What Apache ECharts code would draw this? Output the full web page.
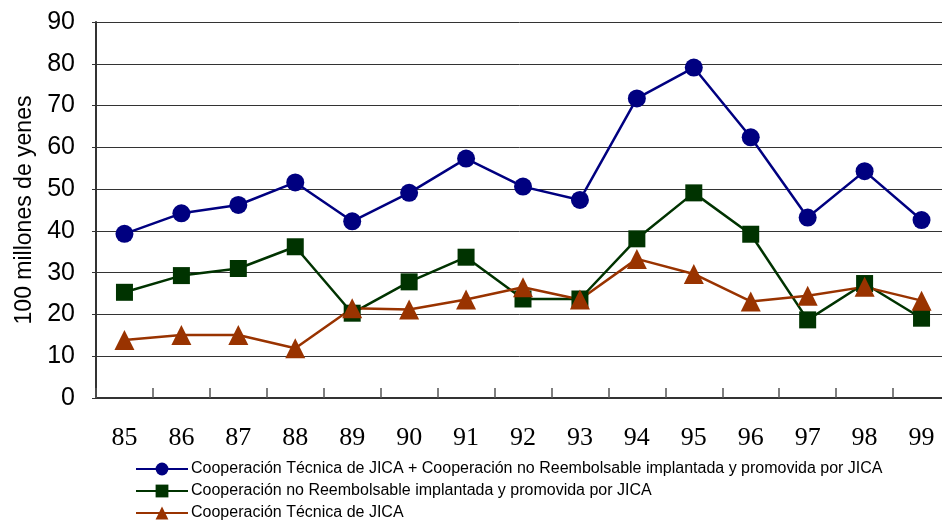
<!DOCTYPE html>
<html><head><meta charset="utf-8">
<script src="https://cdn.jsdelivr.net/npm/echarts@6/dist/echarts.min.js"></script>
<style>html,body{margin:0;padding:0;background:#fff}#c{width:942px;height:523px}</style>
</head><body><div id="c"></div>
<script>
var years = ['85','86','87','88','89','90','91','92','93','94','95','96','97','98','99'];
var totalValues = [39.3,44.2,46.2,51.6,42.3,49.1,57.3,50.6,47.4,71.7,79.1,62.4,43.2,54.3,42.6];
var grantValues = [25.3,29.3,31.0,36.2,20.3,27.8,33.7,23.7,23.7,38.1,49.1,39.2,18.7,27.4,19.1];
var techValues = [13.9,15.1,15.1,11.9,21.5,21.2,23.6,26.5,23.6,33.3,29.7,23.1,24.5,26.6,23.3];
var seriesNames = [
  'Cooperación Técnica de JICA + Cooperación no Reembolsable implantada y promovida por JICA',
  'Cooperación no Reembolsable implantada y promovida por JICA',
  'Cooperación Técnica de JICA'
];
var yTicks = [0,10,20,30,40,50,60,70,80,90];

var chart = echarts.init(document.getElementById('c'), null, {renderer:'canvas'});
chart.setOption({
  animation:false,
  backgroundColor:'#fff',
  grid:{left:96, top:22, width:854, bottom:125, containLabel:false, outerBoundsMode:'none'},
  xAxis:{
    type:'category', data:years, boundaryGap:true,
    axisLine:{lineStyle:{color:'#333', width:2}},
    axisTick:{show:true, inside:true, length:10, lineStyle:{color:'#555', width:1.5}},
    axisLabel:{color:'#000', fontFamily:'Liberation Serif, Times New Roman, serif', fontSize:26, margin:27}
  },
  yAxis:{
    type:'value', min:yTicks[0], max:yTicks[yTicks.length-1], interval:10,
    name:'100 millones de yenes', nameLocation:'middle', nameGap:60, nameRotate:90,
    nameTextStyle:{color:'#000', fontFamily:'Liberation Sans, Arial, sans-serif', fontSize:23},
    axisLine:{show:true, lineStyle:{color:'#333', width:2}},
    axisTick:{show:true, length:4, lineStyle:{color:'#333'}},
    axisLabel:{color:'#000', fontFamily:'Liberation Sans, Arial, sans-serif', fontSize:25, margin:21},
    splitLine:{show:true, lineStyle:{color:'#333', width:1}}
  },
  legend:{
    orient:'vertical', left:135, top:461, padding:0, height:66, itemGap:6, itemWidth:52, itemHeight:16,
    textStyle:{color:'#000', fontFamily:'Liberation Sans, Arial, sans-serif', fontSize:16, padding:[0,0,0,-2]},
    data:seriesNames
  },
  series:[
    {name:seriesNames[0], type:'line', data:totalValues, symbol:'circle', symbolSize:18,
     lineStyle:{color:'#000080', width:2.5}, itemStyle:{color:'#000080'}},
    {name:seriesNames[1], type:'line', data:grantValues, symbol:'rect', symbolSize:17,
     lineStyle:{color:'#003300', width:2.5}, itemStyle:{color:'#003300'}},
    {name:seriesNames[2], type:'line', data:techValues, symbol:'triangle', symbolSize:20,
     lineStyle:{color:'#993300', width:2.5}, itemStyle:{color:'#993300'}}
  ]
});
</script></body></html>
